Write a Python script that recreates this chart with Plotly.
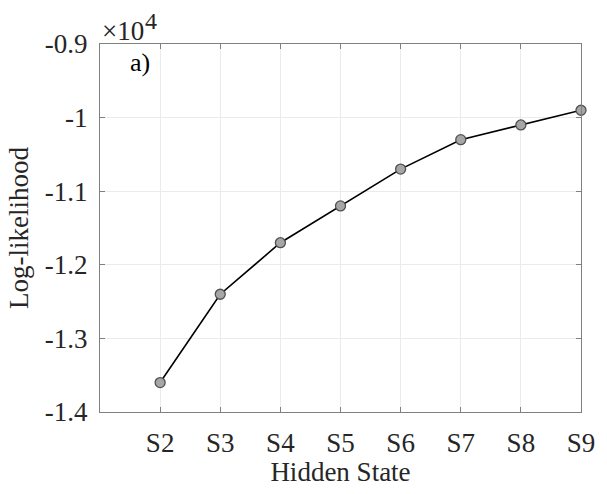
import plotly.graph_objects as go

states = ["S2", "S3", "S4", "S5", "S6", "S7", "S8", "S9"]
state_pos = [2, 3, 4, 5, 6, 7, 8, 9]
loglik = [-13600, -12400, -11700, -11200, -10700, -10300, -10100, -9900]
ytick_vals = [-9000, -10000, -11000, -12000, -13000, -14000]
ytick_text = ["-0.9", "-1", "-1.1", "-1.2", "-1.3", "-1.4"]

FONT = "Liberation Serif, Times New Roman, serif"
TXT = "#262626"

fig = go.Figure()
fig.add_trace(go.Scatter(
    x=state_pos, y=loglik, mode="lines+markers",
    line=dict(color="black", width=1.6),
    marker=dict(size=10, color="#a6a6a6", line=dict(color="#505050", width=1.3)),
    cliponaxis=False, showlegend=False,
))

axis_common = dict(
    showline=True, linecolor="#808080", linewidth=1.2, mirror="ticks",
    ticks="inside", ticklen=5, tickcolor="#808080",
    showgrid=True, gridcolor="#ebebeb", gridwidth=1, zeroline=False,
    tickfont=dict(family=FONT, size=27, color=TXT),
)

fig.update_layout(
    width=607, height=494,
    margin=dict(l=100, r=19, t=44, b=82),
    plot_bgcolor="white", paper_bgcolor="white",
    font=dict(family=FONT, size=27, color=TXT),
    xaxis=dict(range=[1, 9], tickvals=state_pos, ticktext=states,
               ticklabelstandoff=6,
               title=dict(text="Hidden State", font=dict(family=FONT, size=27, color=TXT), standoff=0),
               **axis_common),
    yaxis=dict(range=[-14000, -9000], tickvals=ytick_vals, ticktext=ytick_text,
               ticklabelstandoff=6,
               title=dict(text="Log-likelihood", font=dict(family=FONT, size=27, color=TXT), standoff=8),
               **axis_common),
    annotations=[
        dict(text="×10", xref="paper", yref="paper", x=0.0, y=1.0,
             xanchor="left", yanchor="bottom", showarrow=False, yshift=-4,
             font=dict(family=FONT, size=27, color=TXT)),
        dict(text="4", xref="paper", yref="paper", x=0.0, y=1.0,
             xanchor="left", yanchor="bottom", showarrow=False, xshift=43, yshift=8,
             font=dict(family=FONT, size=24, color=TXT)),
        dict(text="a)", xref="paper", yref="paper", x=0.058, y=0.995,
             xanchor="left", yanchor="top", showarrow=False,
             font=dict(family=FONT, size=26, color="black")),
    ],
)

fig.write_html("out.html")
